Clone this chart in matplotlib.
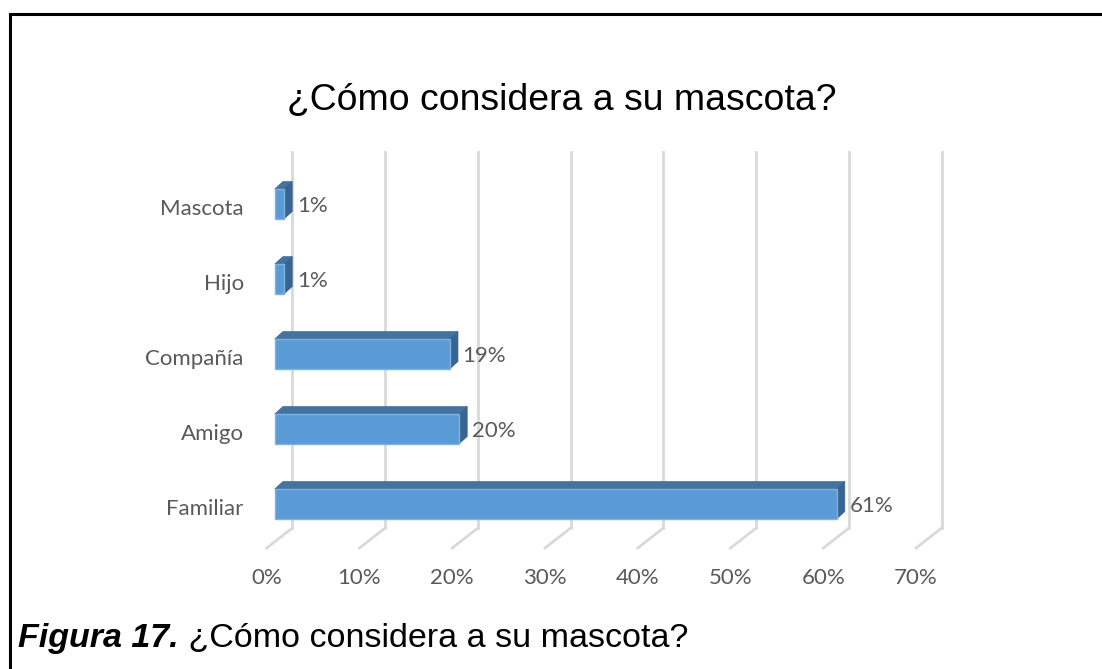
import numpy as np
import matplotlib
matplotlib.use("Agg")
import matplotlib.pyplot as plt
from matplotlib.patches import Polygon
from matplotlib.lines import Line2D

# data (bottom to top)
categories = ['Familiar', 'Amigo', 'Compañía', 'Hijo', 'Mascota']
values = [61, 20, 19, 1, 1]
value_labels = ['61%', '20%', '19%', '1%', '1%']
grid_ticks = [0, 10, 20, 30, 40, 50, 60, 70]
tick_labels = ['0%', '10%', '20%', '30%', '40%', '50%', '60%', '70%']

title = '¿Cómo considera a su mascota?'
caption_bold = 'Figura 17.'
caption_rest = ' ¿Cómo considera a su mascota?'

# colours
c_front = '#5B9BD5'
c_edge = '#7FB2E2'
c_top = '#44739F'
c_side = '#376491'
c_grid = '#D9D9D9'
c_text = '#595959'

W, H = 1102, 669
fig = plt.figure(figsize=(W/100, H/100), dpi=100)

# axes geometry (pixels): 0% at x=274.7, 9.21 px per %, category step 75 px
px_per_pct = 9.21
x0_px = 274.7
cat_px = 75.0
y0_px = 504.0   # centre of first bar, from top
xlim = (-3, 74)
ylim = (-0.8, 4.9)
left = x0_px + xlim[0]*px_per_pct
right = x0_px + xlim[1]*px_per_pct
bottom = y0_px - ylim[0]*cat_px
top = y0_px - ylim[1]*cat_px
ax = fig.add_axes([left/W, (H-bottom)/H, (right-left)/W, (bottom-top)/H])
ax.set_xlim(*xlim)
ax.set_ylim(*ylim)
ax.axis('off')

# pseudo-3d offsets in data units
bar_h = 0.4
dx = 8.3/px_per_pct
dy = 7.5/cat_px
wall_dx = 17.6/px_per_pct
wall_scale = 1.0073
floor_dx = -8.0/px_per_pct
wall_bot = -0.32
wall_top = 4.697
floor_y = -0.587

lab_fs = 16

# back wall gridlines + floor diagonals
for t in grid_ticks:
    xw = wall_dx + t*wall_scale
    xf = floor_dx + t*wall_scale
    ax.add_line(Line2D([xw, xw], [wall_bot, wall_top], color=c_grid, lw=2, clip_on=False, zorder=1))
    ax.add_line(Line2D([xw, xf], [wall_bot, floor_y], color=c_grid, lw=2, clip_on=False, zorder=1))

for t, lab in zip(grid_ticks, tick_labels):
    ax.text(floor_dx + t*wall_scale, -0.987, lab, ha='center', va='center',
            fontsize=lab_fs, color=c_text, family='Lato', clip_on=False)

# bars
for i, v in enumerate(values):
    y1 = i - bar_h/2
    y2 = i + bar_h/2
    top_face = Polygon([[0, y2], [v, y2], [v+dx, y2+dy], [dx, y2+dy]], closed=True,
                       facecolor=c_top, edgecolor=c_top, lw=0.5, zorder=3)
    side_face = Polygon([[v, y1], [v+dx, y1+dy], [v+dx, y2+dy], [v, y2]], closed=True,
                        facecolor=c_side, edgecolor=c_side, lw=0.5, zorder=3)
    ax.add_patch(top_face)
    ax.add_patch(side_face)
    ax.barh(i, v, height=bar_h, left=0, color=c_front, edgecolor=c_edge, lw=1, zorder=4)
    ax.text(v + dx + 0.5, i - 0.03, value_labels[i], ha='left', va='center',
            fontsize=lab_fs, color=c_text, family='Lato', zorder=5)

# category labels
for i, c in enumerate(categories):
    ax.text(xlim[0] - 0.35, i - 0.067, c, ha='right', va='center',
            fontsize=lab_fs, color=c_text, family='Lato', clip_on=False)

# title
fig.text(562/W, 1 - 100/H, title, ha='center', va='center', fontsize=26.9,
         family='Liberation Sans', color='#000000')

# caption
t1 = fig.text(18/W, 1 - 639/H, caption_bold, ha='left', va='center', fontsize=24.5,
              family='Liberation Sans', weight='bold', style='italic', color='#000000')
fig.canvas.draw()
bb = t1.get_window_extent()
fig.text(bb.x1/W, 1 - 639/H, caption_rest, ha='left', va='center', fontsize=24.5,
         family='Liberation Sans', color='#000000')

# outer frame
fig.add_artist(Line2D([9.5/W, 9.5/W], [0, 1 - 14/H], color='black', lw=2.2))
fig.add_artist(Line2D([9.5/W, 1], [1 - 14/H, 1 - 14/H], color='black', lw=2.2))

fig.savefig('out.png', dpi=100)
